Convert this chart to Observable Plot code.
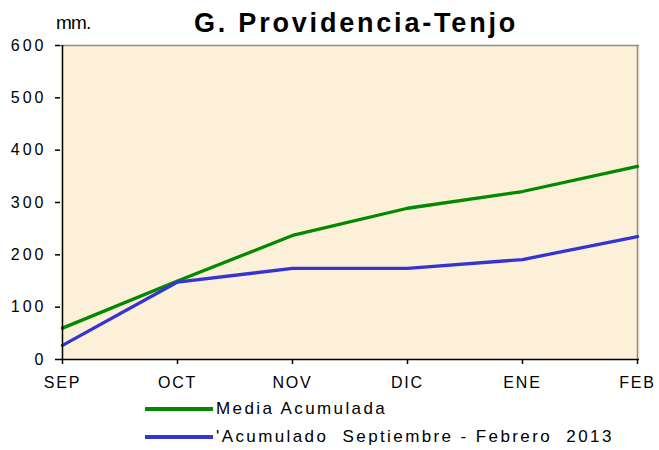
<!DOCTYPE html>
<html>
<head>
<meta charset="utf-8">
<script src="https://cdn.jsdelivr.net/npm/d3@7"></script>
<script src="https://cdn.jsdelivr.net/npm/@observablehq/plot@0.6"></script>
<style>
  html, body { margin: 0; padding: 0; background: #fff; }
  body { width: 659px; height: 450px; overflow: hidden; font-family: "Liberation Sans", Arial, sans-serif; }
  #header { position: relative; height: 30px; }
  #unit { position: absolute; left: 56px; top: 13px; font-size: 19px; line-height: 19px; letter-spacing: -0.8px; color: #000; }
  #title { position: absolute; left: 0; width: 712px; top: 10px; text-align: center; font-size: 27px; line-height: 26px; font-weight: bold; letter-spacing: 2.8px; color: #000; }
  #chart svg { overflow: visible; display: block; }
  #chart svg g[aria-label="y-axis tick label"], #chart svg g[aria-label="y-axis tick label"] text { font-size: 16px !important; letter-spacing: 3px; }
  #chart svg g[aria-label="x-axis tick label"], #chart svg g[aria-label="x-axis tick label"] text { font-size: 16px !important; letter-spacing: 1.8px; }
  #legend { position: relative; height: 61px; }
  .row { position: absolute; left: 145px; display: flex; align-items: center; font-size: 17px; letter-spacing: 2.4px; color: #000; }
  .swatch { display: inline-block; width: 68px; height: 3.5px; margin-right: 3px; }
</style>
</head>
<body>
<div id="header"><div id="unit">mm.</div><div id="title"></div></div>
<div id="chart"></div>
<div id="legend"></div>
<script>
const titleText = "G. Providencia-Tenjo";
const months = ["SEP", "OCT", "NOV", "DIC", "ENE", "FEB"];
const mediaAcumulada = [60, 150, 237, 289, 321, 369];
const acumulado2013 = [27, 148, 174, 174, 191, 235];
const yTicks = [0, 100, 200, 300, 400, 500, 600];
const seriesNames = ["Media Acumulada", "'Acumulado  Septiembre - Febrero  2013"];
const seriesColors = ["#008A00", "#3434D2"];

document.getElementById("title").textContent = titleText;

const data = [];
months.forEach((m, i) => {
  data.push({month: m, value: mediaAcumulada[i], series: seriesNames[0]});
  data.push({month: m, value: acumulado2013[i], series: seriesNames[1]});
});

const chart = Plot.plot({
  width: 659,
  height: 359,
  marginLeft: 60,
  marginRight: 20,
  marginTop: 15,
  marginBottom: 30,
  style: {fontFamily: "'Liberation Sans', Arial, sans-serif", color: "#000", background: "transparent"},
  x: {type: "point", domain: months, padding: 0, label: null},
  y: {domain: [0, 600], label: null},
  color: {domain: seriesNames, range: seriesColors},
  marks: [
    Plot.frame({fill: "#FCF0D8", stroke: null}),
    Plot.ruleY([600], {stroke: "#8C8C8C", strokeWidth: 1.5}),
    Plot.ruleX([months[months.length - 1]], {stroke: "#8C8C8C", strokeWidth: 1.5}),
    Plot.line(data, {x: "month", y: "value", z: "series", stroke: "series", strokeWidth: 3.3}),
    Plot.ruleY([0], {stroke: "#000", strokeWidth: 1.5}),
    Plot.ruleX([months[0]], {stroke: "#000", strokeWidth: 1.5}),
    Plot.axisY({ticks: yTicks, tickSize: 5, tickPadding: 9, stroke: "#000", strokeWidth: 1.5, label: null}),
    Plot.axisX({tickSize: 5, tickPadding: 12, stroke: "#000", strokeWidth: 1.5, label: null})
  ]
});
document.getElementById("chart").appendChild(chart);

const legend = document.getElementById("legend");
seriesNames.forEach((name, i) => {
  const row = document.createElement("div");
  row.className = "row";
  row.style.top = (i === 0 ? 10 : 38) + "px";
  const sw = document.createElement("span");
  sw.className = "swatch";
  sw.style.background = seriesColors[i];
  const label = document.createElement("span");
  label.textContent = name;
  label.style.whiteSpace = "pre";
  row.appendChild(sw);
  row.appendChild(label);
  legend.appendChild(row);
});
</script>
</body>
</html>
